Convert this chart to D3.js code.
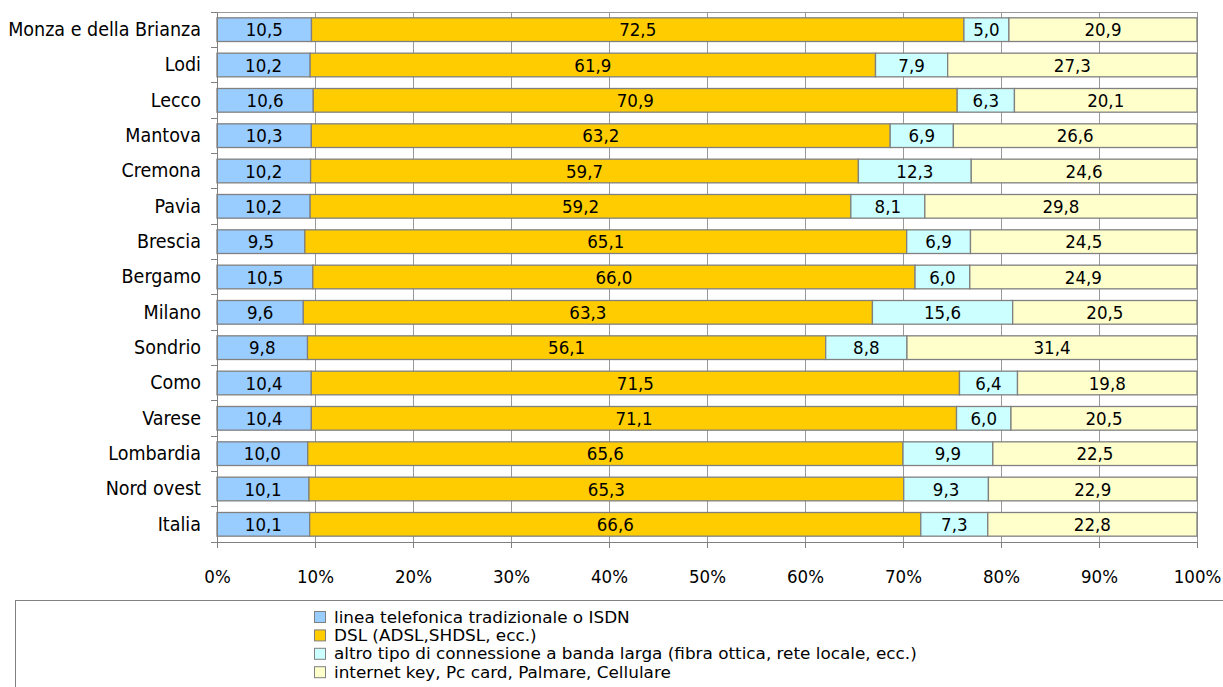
<!DOCTYPE html>
<html><head><meta charset="utf-8">
<script src="https://cdn.jsdelivr.net/npm/d3@7"></script>
<style>
html,body{margin:0;padding:0;background:#fff;}
svg text{font-family:"DejaVu Sans Condensed","DejaVu Sans",sans-serif;font-stretch:condensed;fill:#000;}
</style></head>
<body>
<svg id="c" width="1223" height="687"></svg>
<script>
const categories = ["Monza e della Brianza","Lodi","Lecco","Mantova","Cremona","Pavia","Brescia","Bergamo","Milano","Sondrio","Como","Varese","Lombardia","Nord ovest","Italia"];
const seriesNames = ["linea telefonica tradizionale o ISDN","DSL (ADSL,SHDSL, ecc.)","altro tipo di connessione a banda larga (fibra ottica, rete locale, ecc.)","internet key, Pc card, Palmare, Cellulare"];
const linea = [10.5,10.2,10.6,10.3,10.2,10.2,9.5,10.5,9.6,9.8,10.4,10.4,10.0,10.1,10.1];
const dsl   = [72.5,61.9,70.9,63.2,59.7,59.2,65.1,66.0,63.3,56.1,71.5,71.1,65.6,65.3,66.6];
const altro = [5.0,7.9,6.3,6.9,12.3,8.1,6.9,6.0,15.6,8.8,6.4,6.0,9.9,9.3,7.3];
const key   = [20.9,27.3,20.1,26.6,24.6,29.8,24.5,24.9,20.5,31.4,19.8,20.5,22.5,22.9,22.8];
const xTicks = [0,0.1,0.2,0.3,0.4,0.5,0.6,0.7,0.8,0.9,1.0];
const colors = ["#99CCFF","#FFCC00","#CCFFFF","#FFFFCC"];

const series = [linea,dsl,altro,key];
const rows = categories.map((c,i)=>{const o={cat:c};series.forEach((s,j)=>o["s"+j]=s[i]);return o;});
const keys = ["s0","s1","s2","s3"];
const stacked = d3.stack().keys(keys).offset(d3.stackOffsetExpand)(rows);

const svg = d3.select("#c");
const L=217,R=1197,T=12,B=542;
const x = d3.scaleLinear().domain([0,1]).range([L,R]);
const y = d3.scaleBand().domain(categories).range([T,B]).paddingInner(0.33).paddingOuter(0.165);
const grid="#999";

// gridlines
svg.append("g").selectAll("line").data(xTicks.slice(1)).join("line")
  .attr("x1",d=>x(d)).attr("x2",d=>x(d)).attr("y1",T).attr("y2",B)
  .attr("stroke",grid).attr("stroke-width",1).attr("shape-rendering","crispEdges");
svg.append("line").attr("x1",L).attr("x2",R).attr("y1",T).attr("y2",T).attr("stroke",grid).attr("shape-rendering","crispEdges");

// bars
const g = svg.append("g");
stacked.forEach((layer,j)=>{
  g.append("g").selectAll("rect").data(layer).join("rect")
   .attr("x",d=>x(d[0])).attr("width",d=>x(d[1])-x(d[0]))
   .attr("y",d=>y(d.data.cat)).attr("height",y.bandwidth())
   .attr("fill",colors[j]).attr("stroke","#808080").attr("stroke-width",1.3);
  g.append("g").selectAll("text").data(layer).join("text")
   .attr("x",d=>(x(d[0])+x(d[1]))/2).attr("y",d=>y(d.data.cat)+y.bandwidth()/2)
   .attr("dy","0.36em").attr("text-anchor","middle").attr("font-size",18.5)
   .text(d=>d3.format(".1f")(d.data[keys[j]]).replace(".",","));
});

// axes
const xa = svg.append("g").attr("transform",`translate(0,${B})`)
  .call(d3.axisBottom(x).tickValues(xTicks).tickFormat(d3.format(".0%")).tickSize(6).tickSizeOuter(0));
xa.select(".domain").attr("stroke","#808080");
xa.selectAll(".tick line").attr("stroke","#808080");
xa.selectAll("text").attr("font-size",18.5).attr("dy","1.75em").attr("font-family",null);

const ya = svg.append("g").attr("transform",`translate(${L},0)`)
  .call(d3.axisLeft(y).tickSize(0).tickPadding(16));
ya.select(".domain").attr("stroke","#808080");
ya.selectAll("text").attr("font-size",19.5).attr("font-family",null);
// ticks at band boundaries
const bounds = categories.map(c=>y(c)-y.step()*y.paddingInner()/2).concat([B]);
svg.append("g").selectAll("line").data(bounds).join("line")
  .attr("x1",L-6).attr("x2",L).attr("y1",d=>d).attr("y2",d=>d).attr("stroke","#808080").attr("shape-rendering","crispEdges");

// legend
svg.append("rect").attr("x",15.5).attr("y",600.5).attr("width",1230).attr("height",100)
  .attr("fill","#fff").attr("stroke","#808080");
const lg = svg.append("g").selectAll("g").data(seriesNames).join("g")
  .attr("transform",(d,i)=>`translate(314,${617+i*18.4})`);
lg.append("rect").attr("x",0.5).attr("y",-5.5).attr("width",11).attr("height",11)
  .attr("fill",(d,i)=>colors[i]).attr("stroke","#808080");
lg.append("text").attr("transform","translate(20,0) scale(1.2,1)").attr("dy","0.36em").attr("font-size",15.6).text(d=>d);
</script>
</body></html>
